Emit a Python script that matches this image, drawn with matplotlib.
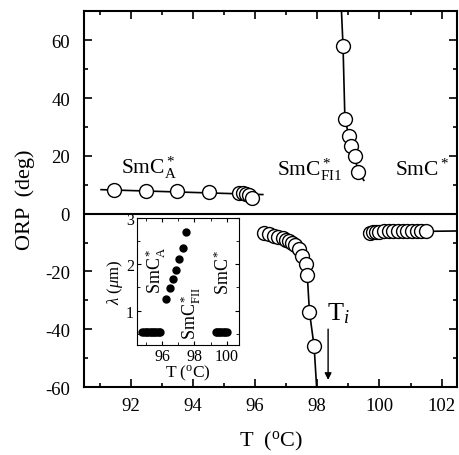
import matplotlib.pyplot as plt
import numpy as np
from matplotlib.ticker import MultipleLocator

plt.rcParams['font.family'] = 'Liberation Serif'
plt.rcParams['mathtext.fontset'] = 'custom'
plt.rcParams['mathtext.rm'] = 'Liberation Serif'
plt.rcParams['mathtext.it'] = 'Liberation Serif:italic'
plt.rcParams['axes.unicode_minus'] = False

# SmC*A branch
smca_T = [91.46, 92.48, 93.5, 94.51, 95.49, 95.62, 95.72, 95.81, 95.9]
smca_orp = [8.2, 8.0, 7.8, 7.4, 7.2, 7.0, 6.8, 6.4, 5.5]
smca_line_T = [91.05, 96.25]
smca_line_orp = [8.3, 6.6]

# SmC*FI1 upper branch
fi1_up_T = [98.83, 98.89, 99.02, 99.09, 99.2, 99.32]
fi1_up_orp = [57.9, 32.8, 26.8, 23.4, 19.9, 14.4]
fi1_up_line_T = [98.78, 98.83, 98.89, 99.02, 99.09, 99.2, 99.32, 99.5]
fi1_up_line_orp = [70, 57.9, 32.8, 26.8, 23.4, 19.9, 14.4, 11.5]

# SmC*FI1 lower branch
fi1_lo_T = [96.3, 96.45, 96.6, 96.75, 96.9, 97.0, 97.1, 97.2, 97.3,
            97.4, 97.52, 97.63, 97.68, 97.75, 97.9]
fi1_lo_orp = [-6.8, -7.2, -7.6, -8.0, -8.5, -9.0, -9.5, -10.2, -11.0,
              -12.3, -14.6, -17.5, -21.3, -34.0, -45.9]
fi1_lo_line_T = fi1_lo_T + [97.98]
fi1_lo_line_orp = fi1_lo_orp + [-60]

# SmC* branch
smc_T = [99.7, 99.8, 99.9, 100.0, 100.15, 100.3, 100.45, 100.6, 100.75,
         100.9, 101.05, 101.2, 101.35, 101.5]
smc_orp = [-6.6, -6.4, -6.3, -6.2, -6.1, -6.1, -6.0, -6.0, -6.0,
           -6.0, -6.0, -6.0, -6.0, -6.0]
smc_line_T = [99.5, 102.5]
smc_line_orp = [-6.4, -6.0]

# inset: pitch
in_left_T = [94.8, 94.9, 95.0, 95.1, 95.2, 95.3, 95.4, 95.5, 95.6, 95.7, 95.8, 95.9]
in_left_lam = [0.53] * 12
in_mid_T = [96.25, 96.5, 96.69, 96.88, 97.06, 97.27, 97.48]
in_mid_lam = [1.24, 1.49, 1.68, 1.88, 2.11, 2.35, 2.70]
in_right_T = [99.3, 99.4, 99.5, 99.6, 99.7, 99.8, 99.9, 100.0]
in_right_lam = [0.53] * 8

fig = plt.figure(figsize=(4.59, 4.56), dpi=100)
ax = fig.add_axes([0.183, 0.149, 0.813, 0.824])

mk = dict(marker='o', ms=10, mfc='white', mec='black', mew=1.0, ls='none', zorder=3)
ax.plot(smca_line_T, smca_line_orp, color='black', lw=1.2)
ax.plot(smca_T, smca_orp, **mk)
ax.plot(fi1_up_line_T, fi1_up_line_orp, color='black', lw=1.2)
ax.plot(fi1_up_T, fi1_up_orp, **mk)
ax.plot(fi1_lo_line_T, fi1_lo_line_orp, color='black', lw=1.2)
ax.plot(fi1_lo_T, fi1_lo_orp, **mk)
ax.plot(smc_line_T, smc_line_orp, color='black', lw=1.2)
ax.plot(smc_T, smc_orp, **mk)
ax.axhline(0, color='black', lw=1.5)

ax.set_xlim(90.5, 102.5)
ax.set_ylim(-60, 70)
ax.xaxis.set_major_locator(MultipleLocator(2))
ax.xaxis.set_minor_locator(MultipleLocator(1))
ax.yaxis.set_major_locator(MultipleLocator(20))
ax.yaxis.set_minor_locator(MultipleLocator(10))
ax.tick_params(which='both', direction='in', top=True, right=True, labelsize=13.5, width=1.2)
ax.tick_params(which='major', length=6)
ax.tick_params(which='minor', length=3)
ax.tick_params(axis='x', which='major', pad=7)
ax.tick_params(axis='y', which='major', pad=10)
for s in ax.spines.values():
    s.set_linewidth(1.5)
ax.set_xlabel(r'T  ($^{\rm o}$C)', fontsize=16, labelpad=11)
ax.set_ylabel('ORP  (deg)', fontsize=16, labelpad=7)

ax.text(91.7, 14.3, r'SmC$^*_{\rm A}$', fontsize=15.5)
ax.text(96.7, 13.5, r'SmC$^*_{\rm FI1}$', fontsize=15.5)
ax.text(100.5, 13.5, r'SmC$^*$', fontsize=15.5)
ax.annotate('', xy=(98.35, -58.5), xytext=(98.35, -39),
            arrowprops=dict(arrowstyle='-|>', color='black', lw=1.0, mutation_scale=10))
ax.text(98.3, -36.5, r'T$_{i}$', fontsize=19)

ins = fig.add_axes([0.298, 0.241, 0.223, 0.278])
ins.plot(in_left_T, in_left_lam, 'o', color='black', ms=5)
ins.plot(in_mid_T, in_mid_lam, 'o', color='black', ms=5)
ins.plot(in_right_T, in_right_lam, 'o', color='black', ms=5)
ins.set_xlim(94.45, 100.75)
ins.set_ylim(0.25, 3.0)
ins.xaxis.set_major_locator(MultipleLocator(2))
ins.xaxis.set_minor_locator(MultipleLocator(1))
ins.yaxis.set_major_locator(MultipleLocator(1))
ins.yaxis.set_minor_locator(MultipleLocator(0.5))
ins.tick_params(which='both', direction='in', top=True, right=True, labelsize=11.5, pad=2)
ins.tick_params(which='major', length=3)
ins.tick_params(which='minor', length=2)
ins.set_xlabel(r'T ($^{\rm o}$C)', fontsize=12.5, labelpad=-1)
ins.set_ylabel(r'$\lambda$ ($\mu$m)', fontsize=12, labelpad=1)
ins.text(95.6, 1.9, r'SmC$^*_{\rm A}$', fontsize=13, rotation=90, ha='center', va='center')
ins.text(97.8, 0.95, r'SmC$^*_{\rm FII}$', fontsize=13, rotation=90, ha='center', va='center')
ins.text(99.75, 1.85, r'SmC$^*$', fontsize=13, rotation=90, ha='center', va='center')

fig.savefig('out.png', dpi=100)
